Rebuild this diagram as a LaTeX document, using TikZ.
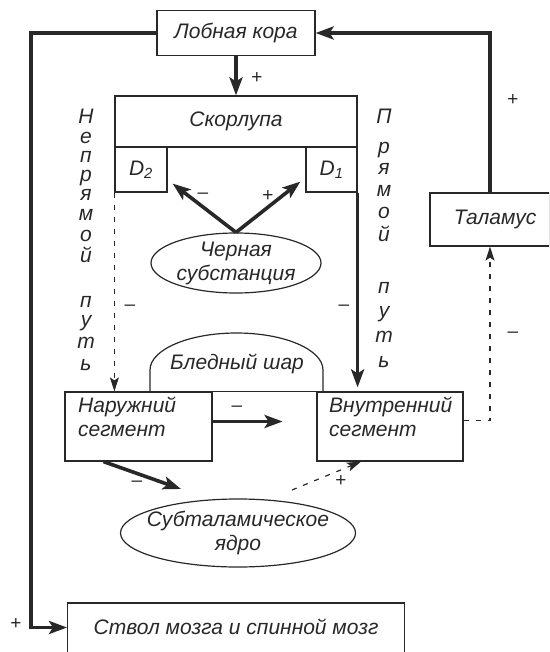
\documentclass[tikz,border=0pt]{standalone}
\usepackage{fontspec}
\setmainfont{Liberation Sans}
\usetikzlibrary{arrows.meta,shapes.geometric,calc}
\definecolor{ink}{RGB}{40,40,40}
\begin{document}
\begin{tikzpicture}[x=1pt,y=-1pt,
  every node/.style={text=ink},
  font=\fontsize{21}{24}\selectfont\itshape,
  box/.style={draw=ink, line width=1.2pt, inner sep=0pt},
  oval/.style={draw=ink, ellipse, line width=1.2pt, align=center},
  thickarrow/.style={draw=ink, line width=3.6pt, -{Stealth[length=18pt,width=13pt,inset=4pt]}},
  dasharrow/.style={draw=ink, line width=1.2pt, dash pattern=on 5pt off 7pt, -{Stealth[length=14pt,width=9pt,inset=3pt]}},
  thinline/.style={draw=ink, line width=1.2pt},
  sign/.style={font=\fontsize{19}{20}\selectfont, inner sep=0pt},
  letter/.style={inner sep=0pt, text height=11pt, text depth=0pt}]
\useasboundingbox (0,0) rectangle (549,652);
\clip (0,0) rectangle (549,652);

% boxes
\node[box, minimum width=158pt, minimum height=45pt] (lob) at (236,33) {Лобная кора};
\node[box, minimum width=242pt, minimum height=51pt] (skor) at (236,121.5) {Скорлупа};
\node[box, minimum width=52pt, minimum height=45pt] (d2) at (141,169.5) {D\textsubscript{2}};
\node[box, minimum width=51pt, minimum height=45pt] (d1) at (331.5,169.5) {D\textsubscript{1}};
\node[oval, minimum width=170pt, minimum height=60pt, inner xsep=0pt, inner ysep=-2pt] (cherna) at (236,263) {Черная\\субстанция};
\node[box, minimum width=120pt, minimum height=53pt] (tal) at (490,219.5) {};
\node (taltxt) at (495,219) {Таламус};

% globus pallidus
\draw[thinline] (150,392) -- (150,370) arc[start angle=180,end angle=0,x radius=86.5pt,y radius=37pt] -- (323,392);
\node (bled) at (237,364) {Бледный шар};
\node[box, minimum width=147pt, minimum height=69pt] (nar) at (138.5,426.5) {};
\node[box, minimum width=146pt, minimum height=69pt] (vnu) at (390,426.5) {};
\draw[thinline] (nar.north east) -- (vnu.north west);
\node[anchor=north west, align=left, inner sep=0pt] (nartxt) at (78,397) {Наружний\\сегмент};
\node[anchor=north west, align=left, inner sep=0pt] (vnutxt) at (329,397) {Внутренний\\сегмент};

\node[oval, minimum width=235pt, minimum height=68pt, inner xsep=-12pt, inner ysep=0pt] (subt) at (238,533) {Субталамическое\\ядро};
\node[box, minimum width=337pt, text height=31pt, text depth=30pt, anchor=base west] (stvol) at (67,634) {Ствол мозга и спинной мозг};

% coordinates
\coordinate (cl) at (31,0);
\coordinate (sw) at ([yshift=6pt]stvol.west);
\coordinate (a1) at (181,489);
\coordinate (a2) at (292,490);

% connectors
\draw[thickarrow] (lob.west) -- (lob.west -| cl) -- (cl |- sw) -- (sw);
\draw[thickarrow] (tal.north) |- (lob.east);
\draw[thickarrow] (lob.south) -- (skor.north);
\draw[thickarrow] (cherna.north) -- ($(d2.south east)+(5,-9)$);
\draw[thickarrow] (cherna.north) -- ($(d1.south west)+(-5,-11)$);
\draw[dasharrow] (d2.south west) -- (d2.south west |- nar.north);
\draw[thickarrow] (d1.south east) -- ($(d1.south east |- vnu.north)+(0,-4)$);
\draw[thickarrow] ([yshift=5pt]nar.east) -- ++(70,0);
\draw[thickarrow] ([xshift=-35pt]nar.south) -- (a1);
\draw[dasharrow] (a2) -- ([xshift=-29pt]vnu.south);
\draw[dasharrow] ([yshift=6pt]vnu.east) -| (tal.south);

% signs
\node[sign] (s1) at (257,78) {+};
\node[sign] (s2) at (203,196) {–};
\node[sign] (s3) at (268,196) {+};
\node[sign] (s4) at (130,308) {–};
\node[sign] (s5) at (344,308) {–};
\node[sign] (s6) at (513,100) {+};
\node[sign] (s7) at (513,335) {–};
\node[sign] (s8) at (237,409) {–};
\node[sign] (s9) at (137,484) {–};
\node[sign] (s10) at (341,481) {+};
\node[sign] (s11) at (16,624) {+};

% vertical labels
\foreach \ch/\yy [count=\i] in {Н/118, е/138, п/157, р/176, я/195, м/215, о/236, й/257, п/302, у/321, т/343, ь/365}
  \node[letter] (nl\i) at (86,\yy) {\ch};
\foreach \ch/\yy [count=\i] in {П/118, р/148, я/169, м/191, о/213, й/236, п/288, у/312, т/337, ь/362}
  \node[letter] (pl\i) at (384,\yy) {\ch};
\end{tikzpicture}
\end{document}
